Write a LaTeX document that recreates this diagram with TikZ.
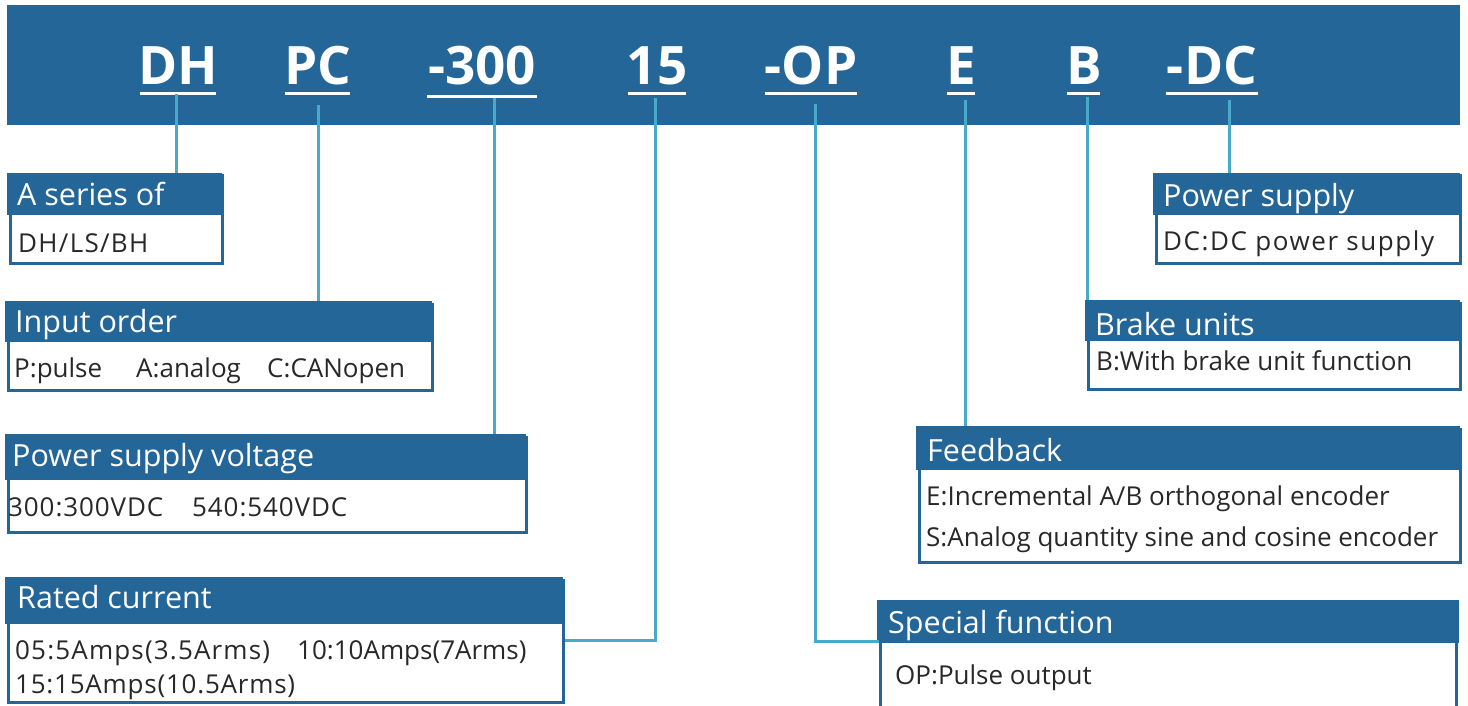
\documentclass[tikz,border=0pt]{standalone}
\usepackage{fontspec}
\setmainfont{Open Sans}
\definecolor{blu}{RGB}{37,102,153}
\definecolor{cy}{RGB}{72,170,200}
\definecolor{txt}{RGB}{40,40,40}
\newcommand\lsp[2]{{\addfontfeature{LetterSpace=#1}#2}}
\tikzset{
  code/.style={font=\bfseries\fontsize{53}{53}\selectfont, text=white, inner sep=0pt, anchor=base},
  uline/.style={draw=white, line width=3pt},
  conn/.style={draw=cy, line width=3pt},
  boxbody/.style={draw=blu, fill=white, line width=3pt, inner sep=0pt, anchor=north west, rectangle},
  boxhead/.style={fill=blu, inner sep=0pt, anchor=north west, rectangle},
  htext/.style={font=\fontsize{30.5}{30.5}\selectfont, text=white, inner sep=0pt, anchor=base west},
  btext/.style={font=\fontsize{26}{26}\selectfont, text=txt, inner sep=0pt, anchor=base west},
}
\begin{document}
\begin{tikzpicture}[x=1pt,y=-1pt]
\clip (0,0) rectangle (1468,706);
\fill[white] (0,0) rectangle (1468,706);
\fill[blu] (7,5) rectangle (1460,125);

% code letters
\node[code] (dh) at (178,85) {DH};
\node[code] (pc) at (318,85) {PC};
\node[code] (v300) at (482,85) {-300};
\node[code] (c15) at (657,85) {15};
\node[code] (op) at (811,85) {-OP};
\node[code] (e) at (961,85) {E};
\node[code] (b) at (1084,85) {B};
\node[code] (dc) at (1212,85) {-DC};
\draw[uline] (140,94) -- (216,94);
\draw[uline] (285,94) -- (350,94);
\draw[uline] (427,97) -- (537,97);
\draw[uline] (628,94) -- (686,94);
\draw[uline] (765,94) -- (857,94);
\draw[uline] (947,94) -- (975,94);
\draw[uline] (1067,94) -- (1100,94);
\draw[uline] (1166,94) -- (1258,94);

% boxes
\node[boxbody, minimum width=212pt, minimum height=87pt] (b1) at (8.5,174.5) {};
\node[boxhead, minimum width=215pt, minimum height=42pt] (h1) at (7,173) {};
\node[htext] at (17,206) {A series of};
\node[btext] at (18,252) {\lsp{5}{DH/LS/BH}};

\node[boxbody, minimum width=424pt, minimum height=86pt] (b2) at (6.5,302.5) {};
\node[boxhead, minimum width=427pt, minimum height=41pt] (h2) at (5,301) {};
\node[htext] at (15,332) {Input order};
\node[btext] at (14,377) {P:pulse};
\node[btext] at (136,377) {A:analog};
\node[btext] at (267,377) {C:CANopen};

\node[boxbody, minimum width=518pt, minimum height=95pt] (b3) at (6.5,435.5) {};
\node[boxhead, minimum width=521pt, minimum height=46pt] (h3) at (5,434) {};
\node[htext] at (12,466) {Power supply voltage};
\node[btext] at (8,516) {\lsp{3.5}{300:300VDC}};
\node[btext] at (192,516) {\lsp{3.5}{540:540VDC}};

\node[boxbody, minimum width=555pt, minimum height=122pt] (b4) at (6.5,578.5) {};
\node[boxhead, minimum width=558pt, minimum height=47pt] (h4) at (5,577) {};
\node[htext] at (17,608) {Rated current};
\node[btext] at (15,659) {\lsp{4.5}{05:5Amps(3.5Arms)}};
\node[btext] at (297,659) {10:10Amps(7Arms)};
\node[btext] at (15,693) {\lsp{3}{15:15Amps(10.5Arms)}};

\node[boxbody, minimum width=304pt, minimum height=87pt] (b5) at (1154.5,174.5) {};
\node[boxhead, minimum width=307pt, minimum height=42pt] (h5) at (1153,173) {};
\node[htext] at (1163,207) {Power supply};
\node[btext] at (1163,250) {\lsp{6}{DC:DC power supply}};

\node[boxbody, minimum width=372pt, minimum height=86pt] (b6) at (1086.5,301.5) {};
\node[boxhead, minimum width=375pt, minimum height=41pt] (h6) at (1085,300) {};
\node[htext] at (1095,335) {Brake units};
\node[btext] at (1096,370) {B:With brake unit function};

\node[boxbody, minimum width=541pt, minimum height=133pt] (b7) at (917.5,427.5) {};
\node[boxhead, minimum width=544pt, minimum height=44pt] (h7) at (916,426) {};
\node[htext] at (927,461) {Feedback};
\node[btext] at (926,505) {E:Incremental A/B orthogonal encoder};
\node[btext] at (926,546) {S:Analog quantity sine and cosine encoder};

\node[boxbody, minimum width=576pt, minimum height=130pt] (b8) at (878.5,601.5) {};
\node[boxhead, minimum width=582pt, minimum height=43pt] (h8) at (877,600) {};
\node[htext] at (888,633) {Special function};
\node[btext] at (895,684) {OP:Pulse output};

% connectors
\coordinate (k1) at (176,94);
\coordinate (k2) at (318,105);
\coordinate (k3) at (494,98);
\coordinate (k4) at (655,98);
\coordinate (k4b) at (655,640);
\coordinate (k5) at (815,104);
\coordinate (k5b) at (815,641);
\coordinate (k6) at (965,100);
\coordinate (k7) at (1087,97);
\coordinate (k8) at (1229,100);
\draw[conn] (k1) -- (k1 |- h1.north);
\draw[conn] (k2) -- (k2 |- h2.north);
\draw[conn] (k3) -- (k3 |- h3.north);
\draw[conn] (k4) -- (k4b) -- (k4b -| b4.east);
\draw[conn] (k5) -- (k5b) -- (k5b -| b8.west);
\draw[conn] (k6) -- (k6 |- h7.north);
\draw[conn] (k7) -- (k7 |- h6.north);
\draw[conn] (k8) -- (k8 |- h5.north);
\end{tikzpicture}
\end{document}
